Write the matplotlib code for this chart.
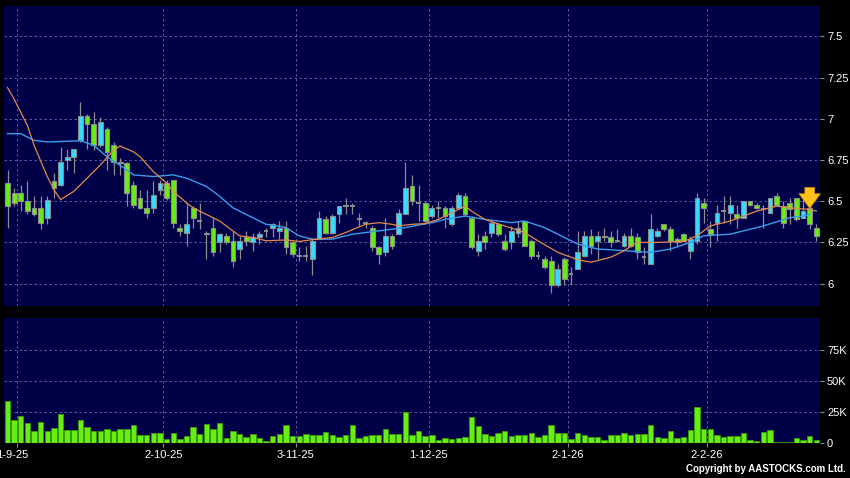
import matplotlib
matplotlib.use("Agg")
import matplotlib.pyplot as plt
import matplotlib.transforms as mtransforms
import numpy as np

# daily OHLC, bar 0 = 28 Aug 2025
opens = [6.61, 6.55, 6.55, 6.50, 6.46, 6.46, 6.40, 6.62, 6.60, 6.75,
         6.77, 6.87, 7.02, 6.97, 6.84, 6.94, 6.84, 6.73, 6.73, 6.60,
         6.52, 6.46, 6.46, 6.57, 6.61, 6.63, 6.34, 6.31, 6.46, 6.38,
         6.30, 6.34, 6.25, 6.29, 6.26, 6.21, 6.28, 6.25, 6.28, 6.32,
         6.34, 6.32, 6.34, 6.25, 6.17, 6.17, 6.15, 6.27, 6.39, 6.31,
         6.42, 6.47, 6.47, 6.40, 6.37, 6.34, 6.22, 6.19, 6.29, 6.30,
         6.42, 6.59, 6.49, 6.49, 6.41, 6.46, 6.46, 6.36, 6.46, 6.53,
         6.40, 6.20, 6.29, 6.31, 6.36, 6.26, 6.25, 6.31, 6.38, 6.26,
         6.17, 6.15, 6.14, 5.99, 6.15, 6.06, 6.09, 6.17, 6.29, 6.26,
         6.29, 6.28, 6.26, 6.23, 6.29, 6.28, 6.16, 6.12, 6.29, 6.36,
         6.33, 6.27, 6.30, 6.20, 6.26, 6.49, 6.33, 6.37, 6.44, 6.43,
         6.42, 6.40, 6.50, 6.48, 6.45, 6.43, 6.53, 6.47, 6.49, 6.52,
         6.40, 6.46, 6.34]
highs = [6.69, 6.58, 6.60, 6.62, 6.53, 6.53, 6.53, 6.67, 6.83, 6.82,
         6.82, 7.10, 7.03, 7.04, 7.01, 6.95, 6.86, 6.76, 6.74, 6.62,
         6.57, 6.57, 6.62, 6.63, 6.63, 6.63, 6.36, 6.49, 6.47, 6.49,
         6.32, 6.40, 6.31, 6.31, 6.32, 6.29, 6.32, 6.31, 6.32, 6.34,
         6.37, 6.38, 6.38, 6.26, 6.22, 6.23, 6.27, 6.44, 6.41, 6.42,
         6.47, 6.52, 6.49, 6.43, 6.38, 6.35, 6.23, 6.40, 6.30, 6.45,
         6.74, 6.66, 6.60, 6.50, 6.48, 6.50, 6.47, 6.47, 6.55, 6.55,
         6.41, 6.30, 6.32, 6.38, 6.37, 6.30, 6.35, 6.38, 6.38, 6.27,
         6.20, 6.17, 6.17, 6.12, 6.16, 6.10, 6.32, 6.32, 6.33, 6.32,
         6.34, 6.32, 6.33, 6.31, 6.34, 6.31, 6.22, 6.42, 6.34, 6.36,
         6.35, 6.28, 6.31, 6.29, 6.55, 6.52, 6.38, 6.48, 6.53, 6.53,
         6.48, 6.50, 6.50, 6.49, 6.48, 6.52, 6.55, 6.50, 6.52, 6.52,
         6.54, 6.48, 6.36]
lows = [6.34, 6.47, 6.44, 6.42, 6.41, 6.33, 6.36, 6.52, 6.59, 6.69,
        6.67, 6.86, 6.82, 6.81, 6.83, 6.69, 6.66, 6.66, 6.47, 6.46,
        6.45, 6.40, 6.43, 6.54, 6.51, 6.34, 6.29, 6.23, 6.34, 6.33,
        6.15, 6.17, 6.19, 6.24, 6.10, 6.15, 6.23, 6.20, 6.24, 6.28,
        6.28, 6.27, 6.18, 6.16, 6.14, 6.14, 6.05, 6.27, 6.30, 6.30,
        6.37, 6.42, 6.42, 6.35, 6.34, 6.20, 6.12, 6.17, 6.21, 6.30,
        6.42, 6.48, 6.38, 6.36, 6.40, 6.40, 6.34, 6.35, 6.45, 6.41,
        6.21, 6.17, 6.21, 6.28, 6.29, 6.20, 6.21, 6.28, 6.23, 6.15,
        6.15, 6.09, 5.94, 5.98, 5.99, 5.99, 6.09, 6.16, 6.18, 6.15,
        6.26, 6.22, 6.25, 6.22, 6.22, 6.15, 6.12, 6.12, 6.28, 6.32,
        6.20, 6.22, 6.26, 6.15, 6.24, 6.37, 6.22, 6.26, 6.37, 6.36,
        6.34, 6.40, 6.47, 6.45, 6.34, 6.43, 6.47, 6.34, 6.36, 6.38,
        6.40, 6.33, 6.26]
closes = [6.47, 6.49, 6.50, 6.44, 6.42, 6.37, 6.51, 6.58, 6.74, 6.77,
          6.82, 7.02, 6.97, 6.84, 6.98, 6.80, 6.74, 6.74, 6.55, 6.48,
          6.46, 6.43, 6.54, 6.61, 6.52, 6.37, 6.32, 6.36, 6.40, 6.38,
          6.31, 6.19, 6.30, 6.25, 6.14, 6.26, 6.26, 6.28, 6.30, 6.32,
          6.36, 6.34, 6.22, 6.18, 6.17, 6.17, 6.26, 6.40, 6.31, 6.41,
          6.47, 6.48, 6.47, 6.39, 6.37, 6.22, 6.18, 6.29, 6.23, 6.43,
          6.58, 6.50, 6.49, 6.38, 6.46, 6.46, 6.41, 6.46, 6.54, 6.42,
          6.22, 6.26, 6.25, 6.37, 6.30, 6.21, 6.32, 6.34, 6.23, 6.17,
          6.17, 6.10, 5.99, 6.09, 6.03, 6.06, 6.19, 6.29, 6.23, 6.29,
          6.28, 6.25, 6.26, 6.29, 6.23, 6.19, 6.16, 6.33, 6.32, 6.33,
          6.26, 6.25, 6.26, 6.27, 6.52, 6.46, 6.30, 6.43, 6.44, 6.48,
          6.40, 6.50, 6.48, 6.46, 6.45, 6.52, 6.48, 6.37, 6.45, 6.39,
          6.44, 6.36, 6.29]
volumes_k = [34.0, 18.6, 22.1, 16.5, 9.8, 17.3, 10.1, 12.2, 23.9, 10.6,
             10.6, 19.2, 13.0, 10.1, 10.1, 12.0, 9.8, 11.7, 11.4, 15.2,
             6.7, 6.7, 8.8, 8.8, 4.0, 8.8, 3.7, 5.9, 13.0, 8.0,
             16.0, 11.4, 16.2, 4.3, 10.4, 7.7, 5.1, 8.0, 4.3, 2.4,
             6.1, 7.4, 14.6, 6.1, 5.9, 8.0, 6.7, 6.7, 9.0, 7.2,
             5.6, 6.7, 15.2, 4.3, 6.1, 7.2, 6.7, 11.4, 8.0, 8.0,
             25.3, 7.2, 10.4, 5.9, 6.7, 3.2, 4.8, 4.0, 4.5, 5.1,
             21.3, 13.8, 8.0, 6.1, 8.5, 10.4, 6.4, 7.2, 6.9, 8.5,
             5.1, 6.7, 14.6, 8.5, 8.5, 3.5, 8.8, 6.7, 5.1, 5.3,
             3.2, 7.2, 6.7, 8.8, 6.9, 7.4, 7.4, 15.2, 5.3, 4.5,
             10.1, 4.8, 5.3, 10.6, 29.3, 11.4, 12.0, 7.2, 5.6, 5.9,
             5.9, 8.5, 2.7, 2.4, 9.6, 11.2, 0.8, 1.1, 1.1, 4.3,
             3.2, 5.9, 2.7]

# moving averages (bar index, price)
ma_fast_idx = [0, 1, 3, 4, 6, 7, 8, 10, 12, 14, 16, 17, 19, 20, 22, 24, 25, 27, 28, 30,
               32, 35, 37, 39, 42, 44, 46, 49, 51, 54, 56, 58, 59, 61, 63, 65, 67, 69, 70,
               72, 75, 78, 80, 83, 86, 88, 91, 93, 95, 98, 102, 104, 106, 109, 111, 113,
               116, 118, 121, 122]
ma_fast = [7.19, 7.12, 6.96, 6.84, 6.65, 6.57, 6.51, 6.56, 6.64, 6.72, 6.81, 6.835, 6.80,
           6.77, 6.68, 6.61, 6.56, 6.49, 6.46, 6.42, 6.38, 6.29, 6.28, 6.26, 6.265, 6.256,
           6.267, 6.28, 6.31, 6.36, 6.37, 6.36, 6.35, 6.36, 6.364, 6.39, 6.43, 6.47, 6.44,
           6.39, 6.35, 6.31, 6.26, 6.19, 6.145, 6.13, 6.16, 6.20, 6.25, 6.25, 6.256, 6.29,
           6.35, 6.38, 6.41, 6.44, 6.47, 6.46, 6.45, 6.44]
ma_slow_idx = [0, 2, 4, 6, 11, 13, 15, 18, 19, 22, 25, 27, 30, 32, 34, 37, 39, 42, 44, 46,
               49, 52, 56, 60, 64, 66, 69, 72, 76, 78, 81, 85, 86, 89, 93, 97, 100, 103,
               105, 109, 112, 114, 118, 120, 121]
ma_slow = [6.91, 6.91, 6.87, 6.86, 6.867, 6.84, 6.77, 6.69, 6.66, 6.65, 6.66, 6.64, 6.59,
           6.53, 6.46, 6.40, 6.36, 6.34, 6.29, 6.27, 6.27, 6.30, 6.32, 6.34, 6.37, 6.39,
           6.41, 6.39, 6.37, 6.38, 6.34, 6.26, 6.24, 6.21, 6.20, 6.19, 6.21, 6.25, 6.29,
           6.30, 6.33, 6.35, 6.40, 6.41, 6.42]

date_idx = [2, 24, 44, 64, 85, 106]
date_labels = ["1-9-25", "2-10-25", "3-11-25", "1-12-25", "2-1-26", "2-2-26"]
price_ticks = [6, 6.25, 6.5, 6.75, 7, 7.25, 7.5]
price_labels = ["6", "6.25", "6.5", "6.75", "7", "7.25", "7.5"]
vol_ticks = [0, 25, 50, 75]
vol_labels = ["0", "25K", "50K", "75K"]
signal_idx = 121

BG = "#000048"
GRID = "#6a6aa8"
UP = "#33ddff"
DOWN = "#66ee11"
EDGE = "#8c8c8c"

plt.rcParams["font.family"] = ["Liberation Sans", "DejaVu Sans"]

o, h, l, c = map(np.asarray, (opens, highs, lows, closes))
x = np.arange(len(o))

fig = plt.figure(figsize=(8.5, 4.78), dpi=100, facecolor="black")
ax = fig.add_axes([0.0047, 0.3598, 0.96, 0.6276], facecolor=BG)
axv = fig.add_axes([0.0047, 0.0722, 0.96, 0.2615], facecolor=BG, sharex=ax)

for a in (ax, axv):
    for s in a.spines.values():
        s.set_visible(False)
    a.yaxis.tick_right()
    a.tick_params(axis="y", colors=EDGE, labelcolor="white", labelsize=8, length=3, pad=2)
    a.set_axisbelow(True)
    for d in date_idx:
        a.axvline(d - 0.5, color=GRID, lw=0.6, ls=(0, (3, 3)), zorder=0)

# price panel
for t in price_ticks:
    ax.axhline(t, color=GRID, lw=0.6, ls=(0, (3, 3)), zorder=0)
ax.vlines(x, l, h, color=EDGE, lw=0.9, zorder=2)
up = c > o
down = c < o
flat = c == o
w = 0.72
ax.bar(x[up], (c - o)[up], bottom=o[up], width=w, color=UP, edgecolor=EDGE, lw=0.8, zorder=3)
ax.bar(x[down], (o - c)[down], bottom=c[down], width=w, color=DOWN, edgecolor=EDGE, lw=0.8, zorder=3)
ax.hlines(c[flat], x[flat] - w / 2, x[flat] + w / 2, color=EDGE, lw=1.4, zorder=3)
ax.plot(ma_slow_idx, ma_slow, color="#3a9ce8", lw=1.0, zorder=4)
ax.plot(ma_fast_idx, ma_fast, color="#e48a4a", lw=0.9, zorder=4)
ax.annotate("", xy=(signal_idx, highs[signal_idx] - 0.04), xytext=(signal_idx, highs[signal_idx] + 0.12),
            arrowprops=dict(arrowstyle="simple,head_width=1.1,head_length=0.75,tail_width=0.5",
                            mutation_scale=14, fc="#ffc21a", ec="#d08a00", lw=0.6), zorder=6)
ax.set_ylim(5.864, 7.685)
ax.set_yticks(price_ticks, price_labels)
ax.set_xlim(-0.53, 122.55)
ax.tick_params(axis="x", bottom=False, labelbottom=False)

# volume panel
for t in vol_ticks[1:]:
    axv.axhline(t, color=GRID, lw=0.6, ls=(0, (3, 3)), zorder=0)
axv.bar(x, volumes_k, width=0.82, color=DOWN, edgecolor="#3c9a0a", lw=0.6, zorder=3)
axv.set_ylim(0, 100.4)
axv.set_yticks(vol_ticks, vol_labels)
axv.set_xticks([d - 0.5 for d in date_idx], date_labels)
axv.tick_params(axis="x", colors=EDGE, labelcolor="white", labelsize=8, length=3, pad=2)
# first label sits partly off the left edge, as in the source chart
first = axv.get_xticklabels()[0]
first.set_transform(first.get_transform() + mtransforms.ScaledTranslation(-0.05, 0, fig.dpi_scale_trans))

fig.text(0.995, 0.008, "Copyright by AASTOCKS.com Ltd.", color="white", fontsize=7,
         fontweight="bold", ha="right", va="bottom")

fig.savefig("out.png", dpi=100, facecolor="black")
